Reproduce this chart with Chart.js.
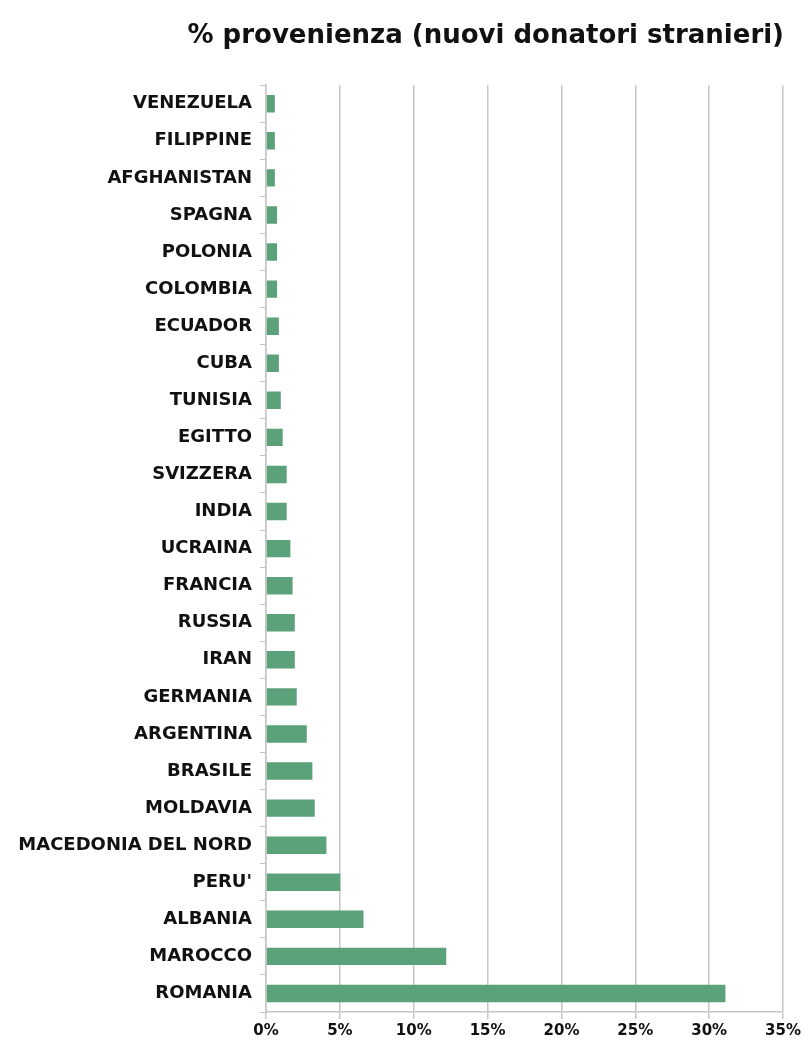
<!DOCTYPE html>
<html>
<head>
<meta charset="utf-8">
<script src="https://cdn.jsdelivr.net/npm/chart.js@4/dist/chart.umd.min.js"></script>
<style>
    html, body {
        margin: 0;
        padding: 0;
        background: #ffffff;
    }

    #wrap {
        position: relative;
        width: 804px;
        height: 1043px;
    }
</style>
</head>
<body>
<div id="wrap">
    <canvas id="chart"></canvas>
</div>

<script>
const countries = [
    "VENEZUELA", "FILIPPINE", "AFGHANISTAN", "SPAGNA", "POLONIA", "COLOMBIA",
    "ECUADOR", "CUBA", "TUNISIA", "EGITTO", "SVIZZERA", "INDIA", "UCRAINA",
    "FRANCIA", "RUSSIA", "IRAN", "GERMANIA", "ARGENTINA", "BRASILE", "MOLDAVIA",
    "MACEDONIA DEL NORD", "PERU'", "ALBANIA", "MAROCCO", "ROMANIA"
];

const percentages = [
    0.6, 0.6, 0.6, 0.75, 0.75, 0.75,
    0.87, 0.87, 1.0, 1.13, 1.4, 1.4, 1.65,
    1.8, 1.95, 1.95, 2.08, 2.76, 3.14, 3.3,
    4.09, 5.03, 6.6, 12.2, 31.1
];

const xTicks = [0, 5, 10, 15, 20, 25, 30, 35];

const gridColor = "#c6c6c6";

canvas = document.getElementById("chart");
ctx = canvas.getContext("2d");

const chart = new Chart(ctx, {
    type: 'bar',
    data: {
        labels: countries,
        datasets: [
            {
                label: '% provenienza',
                data: percentages,
                backgroundColor: '#5ba27a',
                categoryPercentage: 1,
                barPercentage: 0.47,
            }
        ]
    },
    options: {
        indexAxis: 'y',
        responsive: true,
        maintainAspectRatio: false,
        animation: false,
        layout: {
            padding: { left: 10, right: 20, top: 0, bottom: 0 }
        },
        scales: {
            x: {
                min: xTicks[0],
                max: xTicks[xTicks.length - 1],
                afterBuildTicks: function (scale) {
                    scale.ticks = xTicks.map(v => ({ value: v }));
                },
                grid: {
                    color: gridColor,
                    lineWidth: 1.5,
                    tickLength: 7,
                },
                border: { color: gridColor, width: 1.5 },
                ticks: {
                    color: '#111111',
                    padding: 3,
                    font: { family: 'DejaVu Sans', size: 15, weight: 'bold' },
                    callback: function (value) {
                        return value + '%';
                    }
                }
            },
            y: {
                afterFit: function (scale) {
                    scale.width = 256;
                },
                grid: {
                    drawOnChartArea: false,
                    color: gridColor,
                    tickLength: 6,
                },
                border: { color: gridColor, width: 1.5 },
                ticks: {
                    color: '#111111',
                    padding: 8,
                    autoSkip: false,
                    font: { family: 'DejaVu Sans', size: 18, weight: 'bold' }
                }
            }
        },
        plugins: {
            legend: { display: false },
            tooltip: { enabled: false },
            title: {
                display: true,
                text: '% provenienza (nuovi donatori stranieri)',
                align: 'end',
                color: '#111111',
                font: { family: 'DejaVu Sans', size: 26, weight: 'bold' },
                padding: { top: 21, bottom: 33 }
            }
        }
    }
});
</script>
</body>
</html>
